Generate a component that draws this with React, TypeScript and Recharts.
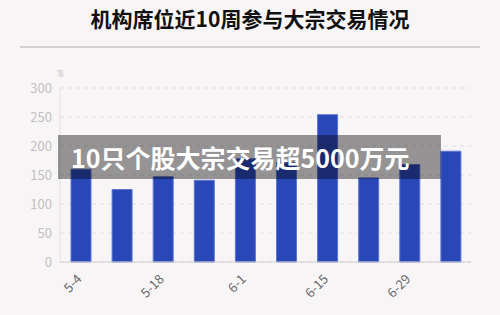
import React from "react";
import { BarChart, Bar, XAxis, YAxis, CartesianGrid } from "recharts";

const weeks = ["5-4", "5-11", "5-18", "5-25", "6-1", "6-8", "6-15", "6-22", "6-29", "7-6"];
const counts = [160, 125, 147, 141, 178, 171, 254, 145, 168, 191];
const yTicks = [0, 50, 100, 150, 200, 250, 300];
const title = "机构席位近10周参与大宗交易情况";
const banner = "10只个股大宗交易超5000万元";
const unit = "笔";

const data = weeks.map((w, i) => ({ week: w, count: counts[i] }));

const FONT = '"Noto Sans CJK SC", "Noto Sans", sans-serif';

const XTick = (props: any) => {
  const { x, y, payload } = props;
  return (
    <text
      x={x + 2}
      y={y + 10}
      transform={`rotate(-45, ${x + 2}, ${y + 10})`}
      textAnchor="end"
      fill="#6a6a6a"
      fontSize={13}
      fontFamily={FONT}
    >
      {payload.value}
    </text>
  );
};

export default function App() {
  return (
    <div
      style={{
        position: "absolute",
        left: 0,
        top: 0,
        width: 500,
        height: 315,
        background: "#f8f5f6",
        fontFamily: FONT,
        overflow: "hidden",
      }}
    >
      <div
        style={{
          position: "absolute",
          left: 0,
          top: 4,
          width: 500,
          textAlign: "center",
          fontSize: 21,
          fontWeight: 700,
          color: "#111",
          lineHeight: "28px",
        }}
      >
        {title}
      </div>
      <div
        style={{
          position: "absolute",
          left: 20,
          top: 46,
          width: 460,
          height: 2,
          background: "#d3d1d2",
        }}
      />
      <BarChart
        width={500}
        height={315}
        data={data}
        margin={{ top: 88, right: 29, bottom: 0, left: 20 }}
        style={{ position: "absolute", left: 0, top: 0 }}
      >
        <CartesianGrid vertical={false} stroke="#e2dfe0" strokeDasharray="4 4" />
        <XAxis
          dataKey="week"
          interval={1}
          tickLine={false}
          axisLine={{ stroke: "#d0cecf" }}
          tick={<XTick />}
          height={53}
        />
        <YAxis
          width={40}
          domain={[0, 300]}
          ticks={yTicks}
          interval={0}
          tickLine={false}
          axisLine={{ stroke: "#e0dedf" }}
          tick={{ fill: "#c2c0c1", fontSize: 13, fontFamily: FONT }}
        />
        <Bar
          dataKey="count"
          fill="#2a47b7"
          stroke="#5c76d2"
          strokeWidth={1}
          barSize={20}
          isAnimationActive={false}
        />
      </BarChart>
      <div
        style={{
          position: "absolute",
          left: 57,
          top: 68,
          fontSize: 7,
          color: "#c8c6c7",
        }}
      >
        {unit}
      </div>
      <div
        style={{
          position: "absolute",
          left: 58,
          top: 135,
          width: 383,
          height: 44,
          background: "rgba(0,0,0,0.4)",
          color: "#fff",
          fontWeight: 700,
          fontSize: 25,
          lineHeight: "44px",
          paddingLeft: 13,
          boxSizing: "border-box",
          whiteSpace: "nowrap",
        }}
      >
        {banner}
      </div>
    </div>
  );
}
